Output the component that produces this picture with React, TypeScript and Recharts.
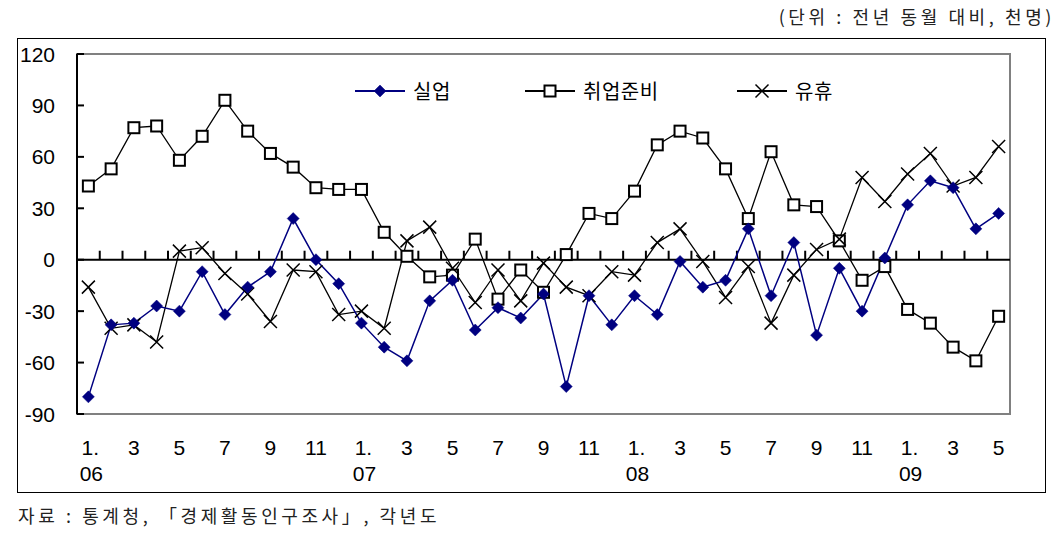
import React from 'react';
import { LineChart, Line, XAxis, YAxis, ReferenceLine, ReferenceArea, Legend } from 'recharts';

// ---- data ----
const months = [1,2,3,4,5,6,7,8,9,10,11,12, 1,2,3,4,5,6,7,8,9,10,11,12, 1,2,3,4,5,6,7,8,9,10,11,12, 1,2,3,4,5];
const years = ['06','06','06','06','06','06','06','06','06','06','06','06','07','07','07','07','07','07','07','07','07','07','07','07','08','08','08','08','08','08','08','08','08','08','08','08','09','09','09','09','09'];

const unemployed = [-80,-38,-37,-27,-30,-7,-32,-16,-7,24,0,-14,-37,-51,-59,-24,-12,-41,-28,-34,-20,-74,-21,-38,-21,-32,-1,-16,-12,18,-21,10,-44,-5,-30,1,32,46,42,18,27];
const jobPrep = [43,53,77,78,58,72,93,75,62,54,42,41,41,16,2,-10,-9,12,-23,-6,-19,3,27,24,40,67,75,71,53,24,63,32,31,11,-12,-4,-29,-37,-51,-59,-33];
const idle = [-16,-40,-38,-48,5,7,-8,-20,-36,-6,-7,-32,-30,-40,11,19,-5,-25,-6,-24,-2,-16,-21,-7,-9,10,18,-1,-22,-4,-37,-9,6,12,48,34,50,62,43,48,66];

const seriesNames = ['실업', '취업준비', '유휴'];
const yTicks = [-90, -60, -30, 0, 30, 60, 90, 120];
const unitNote = '(단위 : 전년 동월 대비, 천명)';
const sourceNote = '자료 : 통계청, 「경제활동인구조사」, 각년도';

const data = months.map((m, i) => ({
  i,
  month: m,
  year: years[i],
  a: unemployed[i],
  b: jobPrep[i],
  c: idle[i],
}));

const xTicks = data.filter((d) => d.i % 2 === 0).map((d) => d.i);
const boundaries = data.slice(0, data.length - 1).map((d) => d.i + 0.5);

const NAVY = '#000080';
const NUM_FONT = '"Liberation Sans", Arial, sans-serif';
const KR_FONT = '"Noto Sans CJK KR", "Noto Sans", sans-serif';

const Diamond = (props: any) => {
  const { cx, cy, index } = props;
  if (cx == null || cy == null) return <g key={`dm-${index}`} />;
  const r = 6;
  return (
    <polygon key={`dm-${index}`} points={`${cx},${cy - r} ${cx + r},${cy} ${cx},${cy + r} ${cx - r},${cy}`} fill={NAVY} stroke={NAVY} strokeWidth={0.5} />
  );
};
const Square = (props: any) => {
  const { cx, cy, index } = props;
  if (cx == null || cy == null) return <g key={`sq-${index}`} />;
  const s = 5.5;
  return <rect key={`sq-${index}`} x={cx - s} y={cy - s} width={2 * s} height={2 * s} fill="#fff" stroke="#000" strokeWidth={2} />;
};
const Cross = (props: any) => {
  const { cx, cy, index } = props;
  if (cx == null || cy == null) return <g key={`cr-${index}`} />;
  const s = 6.5;
  return (
    <path key={`cr-${index}`} d={`M${cx - s},${cy - s}L${cx + s},${cy + s}M${cx + s},${cy - s}L${cx - s},${cy + s}`} stroke="#000" strokeWidth={1.5} fill="none" />
  );
};

const XTick = (props: any) => {
  const { x, y, payload } = props;
  const d = data[payload.value];
  if (!d) return <g />;
  const label = d.month === 1 ? '1.' : String(d.month);
  return (
    <g>
      <text x={x + (d.month === 1 ? 2 : 0)} y={y + 33} textAnchor="middle" dominantBaseline="central" fontSize={21} fontFamily={NUM_FONT} fill="#000">
        {label}
      </text>
      {d.month === 1 ? (
        <text x={x + 3} y={y + 59} textAnchor="middle" dominantBaseline="central" fontSize={21} fontFamily={NUM_FONT} fill="#000">
          {d.year}
        </text>
      ) : null}
    </g>
  );
};

const YTick = (props: any) => {
  const { x, y, payload } = props;
  return (
    <g>
      <line x1={x} x2={x + 7} y1={y} y2={y} stroke="#000" strokeWidth={2} />
      <text x={x - 22} y={y} textAnchor="end" dominantBaseline="central" fontSize={21} fontFamily={NUM_FONT} fill="#000">
        {payload.value}
      </text>
    </g>
  );
};

const legendMarkers = [Diamond, Square, Cross];
const legendColors = [NAVY, '#000', '#000'];
const legendLefts = [355, 525, 737];

const renderLegend = () => (
  <div style={{ position: 'relative', width: 1060, height: 0 }}>
    {seriesNames.map((name, k) => {
      const Marker = legendMarkers[k];
      return (
        <div key={name} style={{ position: 'absolute', left: legendLefts[k], top: 80, height: 22, display: 'flex', alignItems: 'center', whiteSpace: 'nowrap' }}>
          <svg width={50} height={22} style={{ display: 'block' }}>
            <line x1={0} x2={50} y1={11} y2={11} stroke={legendColors[k]} strokeWidth={2} />
            <Marker cx={25} cy={11} index={k} />
          </svg>
          <span style={{ marginLeft: 8, fontFamily: KR_FONT, fontSize: 20, color: '#000', lineHeight: '22px', letterSpacing: 0.5 }}>{name}</span>
        </div>
      );
    })}
  </div>
);

export default function App() {
  return (
    <div style={{ position: 'absolute', left: 0, top: 0, width: 1060, height: 537, background: '#fff', overflow: 'hidden' }}>
      <div style={{ position: 'absolute', right: 5, top: 3, fontFamily: KR_FONT, fontSize: 18, letterSpacing: 3.6, color: '#222', whiteSpace: 'nowrap' }}>
        {unitNote}
      </div>
      <div style={{ position: 'absolute', left: 17, top: 38, width: 1029, height: 455, border: '1px solid #000', boxSizing: 'border-box' }} />
      <div style={{ position: 'absolute', left: 0, top: 0 }}>
        <LineChart width={1060} height={537} data={data} margin={{ top: 54, right: 50, bottom: 63, left: 17 }}>
          <ReferenceArea x1={-0.5} x2={40.5} y1={-90} y2={120} fill="none" stroke="#808080" strokeWidth={2} ifOverflow="visible" />
          <XAxis
            type="number"
            dataKey="i"
            domain={[-0.5, 40.5]}
            ticks={xTicks}
            interval={0}
            allowDataOverflow
            axisLine={false}
            tickLine={false}
            tickSize={0}
            tickMargin={0}
            height={60}
            tick={<XTick />}
          />
          <YAxis
            type="number"
            domain={[-90, 120]}
            ticks={yTicks}
            interval={0}
            allowDataOverflow
            width={60}
            axisLine={{ stroke: '#000', strokeWidth: 2 }}
            tickLine={false}
            tickSize={0}
            tickMargin={0}
            tick={<YTick />}
          />
          <ReferenceLine y={0} stroke="#000" strokeWidth={2} />
          {boundaries.map((b) => (
            <ReferenceLine key={`tb-${b}`} segment={[{ x: b, y: 0 }, { x: b, y: 5.25 }]} stroke="#000" strokeWidth={2} />
          ))}
          <Legend layout="horizontal" verticalAlign="middle" align="center" wrapperStyle={{ left: 0, top: 0, width: 1060, height: 0 }} content={renderLegend} />
          <Line type="linear" dataKey="b" name={seriesNames[1]} stroke="#000" strokeWidth={1.3} dot={Square} activeDot={false} isAnimationActive={false} />
          <Line type="linear" dataKey="c" name={seriesNames[2]} stroke="#000" strokeWidth={1.3} dot={Cross} activeDot={false} isAnimationActive={false} />
          <Line type="linear" dataKey="a" name={seriesNames[0]} stroke={NAVY} strokeWidth={1.5} dot={Diamond} activeDot={false} isAnimationActive={false} />
        </LineChart>
      </div>
      <div style={{ position: 'absolute', left: 18, top: 502, fontFamily: KR_FONT, fontSize: 18, letterSpacing: 3.6, color: '#222', whiteSpace: 'nowrap' }}>
        {sourceNote}
      </div>
    </div>
  );
}
